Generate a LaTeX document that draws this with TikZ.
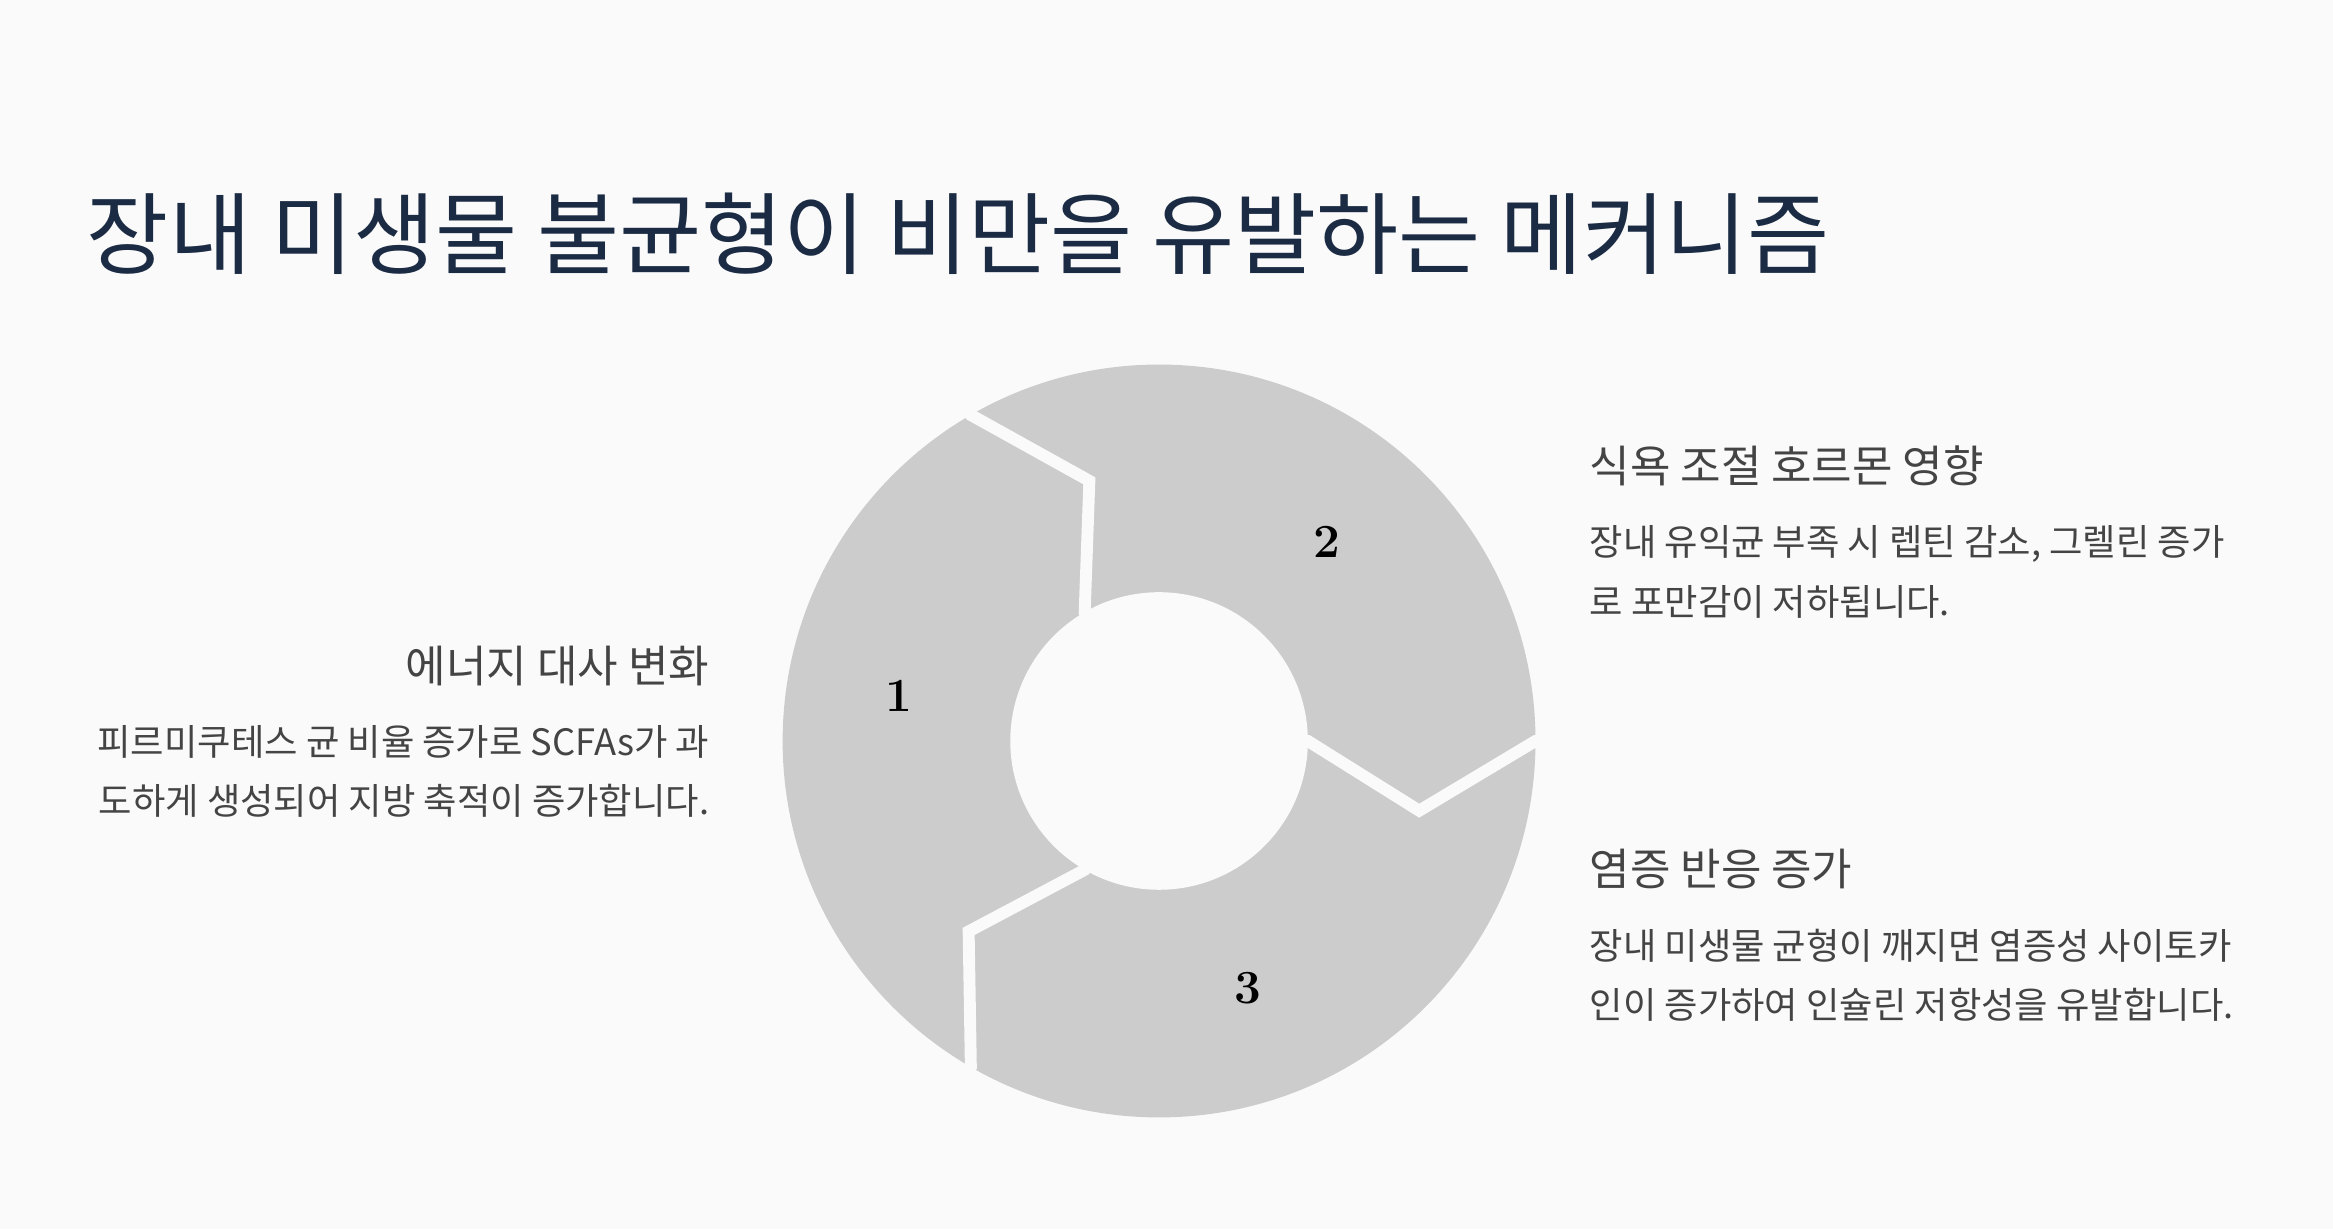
\documentclass[tikz,border=0pt]{standalone}
\usepackage{fontspec}
\setmainfont{Noto Sans CJK KR}
\newfontfamily\numfont{Latin Modern Roman}
\definecolor{bgc}{HTML}{FAFAFA}
\definecolor{seg}{HTML}{CCCCCC}
\definecolor{titlec}{HTML}{1B2B44}
\definecolor{txt}{HTML}{444444}
\tikzset{
 head/.style={font=\fontsize{14.8pt}{17pt}\selectfont, text=txt, inner sep=0pt},
 body/.style={font=\fontsize{12.2pt}{20pt}\selectfont, text=txt, inner sep=0pt, align=left},
 num/.style={font=\numfont\bfseries\fontsize{16pt}{18pt}\selectfont},
 cut/.style={draw=bgc, line width=4pt, miter limit=10}
}
\begin{document}
\begin{tikzpicture}[x=0.5pt,y=-0.5pt]
\fill[bgc] (0,0) rectangle (1568,826);
\useasboundingbox (0,0) rectangle (1568,826);
\node[anchor=base west, inner sep=0pt, text=titlec, font=\fontsize{30pt}{34pt}\selectfont] (title) at (58,180) {장내 미생물 불균형이 비만을 유발하는 메커니즘};
\coordinate (c) at (779,498);
\fill[seg] (c) circle (126.5pt);
\fill[bgc] (c) circle (50pt);
\foreach \a in {120,0,240}{
 \draw[cut] ({779+262*cos(\a)},{498-262*sin(\a)}) -- ({779+253*cos(\a)},{498-253*sin(\a)}) -- ({779+181*cos(\a-15)},{498-181*sin(\a-15)}) -- ({779+100*cos(\a)},{498-100*sin(\a)}) -- ({779+90*cos(\a)},{498-90*sin(\a)});
}
\node[num] (n1) at (604,468) {1};
\node[num] (n2) at (892,364) {2};
\node[num] (n3) at (839,664) {3};
\node[head, anchor=base east] (h1) at (477,459) {에너지 대사 변화};
\node[body, anchor=north east, align=right] (b1) at (477,487) {피르미쿠테스 균 비율 증가로 SCFAs가 과\\도하게 생성되어 지방 축적이 증가합니다.};
\node[head, anchor=base west] (h2) at (1068,324) {식욕 조절 호르몬 영향};
\node[body, anchor=north west] (b2) at (1068,353) {장내 유익균 부족 시 렙틴 감소, 그렐린 증가\\로 포만감이 저하됩니다.};
\node[head, anchor=base west] (h3) at (1068,595) {염증 반응 증가};
\node[body, anchor=north west] (b3) at (1068,624) {장내 미생물 균형이 깨지면 염증성 사이토카\\인이 증가하여 인슐린 저항성을 유발합니다.};
\end{tikzpicture}
\end{document}
